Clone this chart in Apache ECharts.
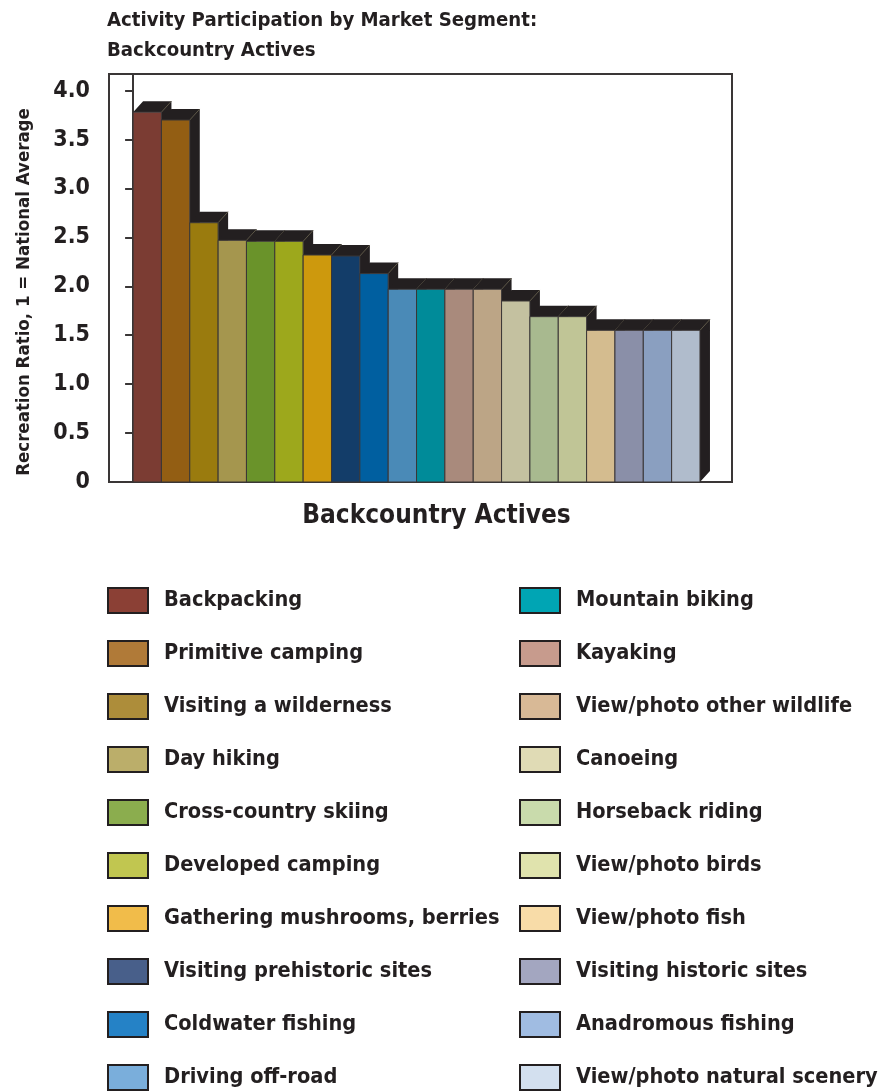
<!DOCTYPE html>
<html>
<head>
<meta charset="utf-8">
<script src="https://cdn.jsdelivr.net/npm/echarts@6/dist/echarts.min.js"></script>
<style>
  html, body { margin: 0; padding: 0; background: #fff; }
  #chart { width: 884px; height: 1091px; }
</style>
</head>
<body>
<div id="chart"></div>
<script>
// activities, in bar order
const activities = [
  'Backpacking', 'Primitive camping', 'Visiting a wilderness', 'Day hiking',
  'Cross-country skiing', 'Developed camping', 'Gathering mushrooms, berries',
  'Visiting prehistoric sites', 'Coldwater fishing', 'Driving off-road',
  'Mountain biking', 'Kayaking', 'View/photo other wildlife', 'Canoeing',
  'Horseback riding', 'View/photo birds', 'View/photo fish',
  'Visiting historic sites', 'Anadromous fishing', 'View/photo natural scenery'
];
// recreation ratio (1 = national average)
const ratios = [3.78, 3.70, 2.65, 2.47, 2.46, 2.46, 2.32, 2.31, 2.13, 1.97,
  1.97, 1.97, 1.97, 1.85, 1.69, 1.69, 1.55, 1.55, 1.55, 1.55];
// bar face colours
const barColors = [
  '#7b3c33', '#935e13', '#9a7b0e', '#a5964e', '#6a932a', '#9da81c', '#cd990d',
  '#133d69', '#005fa0', '#4a8ab7', '#008b99', '#a98a7c', '#bca586', '#c4c1a0',
  '#a8b98f', '#c0c596', '#d4bc8f', '#8a8fa8', '#8a9fc0', '#b0bccc'
];
// legend swatch colours (lighter than the bars in the original)
const legendColors = [
  '#8b4035', '#b07a38', '#ad8d3a', '#bbae6a', '#8bad4e', '#c1c650', '#f1bc4a',
  '#485f8a', '#2582c6', '#7aaedb', '#00a5b4', '#c79b8d', '#d8b996', '#e0dbb5',
  '#c9dbac', '#e0e3ad', '#f8dca8', '#a3a6c0', '#a0bce2', '#d3e0ef'
];
const yTicks = [0, 0.5, 1, 1.5, 2, 2.5, 3, 3.5, 4];

const FONT = '"Liberation Sans Narrow", "DejaVu Sans Condensed", "Roboto", sans-serif';
const INK = '#231f20';
const DEPTH_X = 10, DEPTH_Y = 11;

const chart = echarts.init(document.getElementById('chart'));

function render3d(params, api) {
  const i = api.value(0);
  const v = api.value(1);
  const tl = api.coord([i, v]);
  const br = api.coord([i + 1, 0]);
  const l = tl[0], t = tl[1], r = br[0], b = br[1];
  return {
    type: 'group',
    children: [
      { // top + right faces
        type: 'polygon',
        shape: { points: [[l, t], [l + DEPTH_X, t - DEPTH_Y], [r + DEPTH_X, t - DEPTH_Y],
          [r + DEPTH_X, b - DEPTH_Y], [r, b], [r, t]] },
        style: { fill: INK }
      },
      {
        type: 'line',
        shape: { x1: r, y1: t, x2: r + DEPTH_X, y2: t - DEPTH_Y },
        style: { stroke: '#5e5848', lineWidth: 1 }
      },
      {
        type: 'rect',
        shape: { x: l, y: t, width: r - l, height: b - t },
        style: { fill: api.visual('color'), stroke: '#3a3636', lineWidth: 1 }
      }
    ]
  };
}

const series = activities.map((name, i) => ({
  name: name,
  type: 'custom',
  renderItem: render3d,
  itemStyle: { color: barColors[i] },
  encode: { x: 0, y: 1 },
  data: [[i, ratios[i]]]
}));

function legendData(from, to) {
  return activities.slice(from, to).map((name, k) => ({
    name: name,
    itemStyle: { color: legendColors[from + k] }
  }));
}

const legendBase = {
  orient: 'vertical',
  top: 587,
  height: 504,
  padding: 0,
  icon: 'rect',
  itemWidth: 40,
  itemHeight: 25,
  itemGap: 26,
  selectedMode: false,
  itemStyle: { borderColor: INK, borderWidth: 2 },
  textStyle: {
    fontFamily: FONT, fontWeight: 'bold', fontSize: 21.6, color: INK,
    lineHeight: 25, padding: [0, 0, 0, 11]
  }
};

const option = {
  backgroundColor: '#fff',
  animation: false,
  title: {
    text: 'Activity Participation by Market Segment:\nBackcountry Actives',
    left: 107,
    top: 6,
    padding: 0,
    textStyle: {
      fontFamily: FONT, fontWeight: 'bold', fontSize: 20.2, lineHeight: 30, color: INK
    }
  },
  legend: [
    Object.assign({}, legendBase, { left: 107, data: legendData(0, 10) }),
    Object.assign({}, legendBase, { left: 519, data: legendData(10, 20) })
  ],
  grid: {
    left: 109, right: 152, top: 74, bottom: 609,
    show: true, borderColor: '#3a3636', borderWidth: 2,
    containLabel: false
  },
  xAxis: {
    type: 'value',
    min: -0.85,
    max: 21.13,
    splitLine: { show: false },
    axisTick: { show: false },
    axisLabel: { show: false },
    axisLine: { show: true, lineStyle: { color: '#3a3636', width: 2 } },
    name: 'Backcountry Actives',
    nameLocation: 'middle',
    nameGap: 21,
    nameTextStyle: {
      fontFamily: FONT, fontWeight: 'bold', fontSize: 26, color: INK,
      padding: [0, 0, 0, 32]
    }
  },
  yAxis: {
    type: 'value',
    min: 0,
    max: 4.17,
    splitLine: { show: false },
    axisLine: { show: true, lineStyle: { color: '#3a3636', width: 2 } },
    axisTick: { show: true, length: 8, customValues: yTicks, lineStyle: { color: '#3a3636', width: 2 } },
    axisLabel: {
      customValues: yTicks,
      margin: 19,
      fontFamily: FONT, fontWeight: 'bold', fontSize: 23, color: INK,
      formatter: v => v === 0 ? '0' : v.toFixed(1)
    },
    name: 'Recreation Ratio, 1 = National Average',
    nameLocation: 'middle',
    nameGap: 75,
    nameRotate: 90,
    nameTextStyle: {
      fontFamily: FONT, fontWeight: 'bold', fontSize: 18.5, color: INK,
      padding: [0, 28, 0, 0]
    }
  },
  series: series
};

chart.setOption(option);
</script>
</body>
</html>
